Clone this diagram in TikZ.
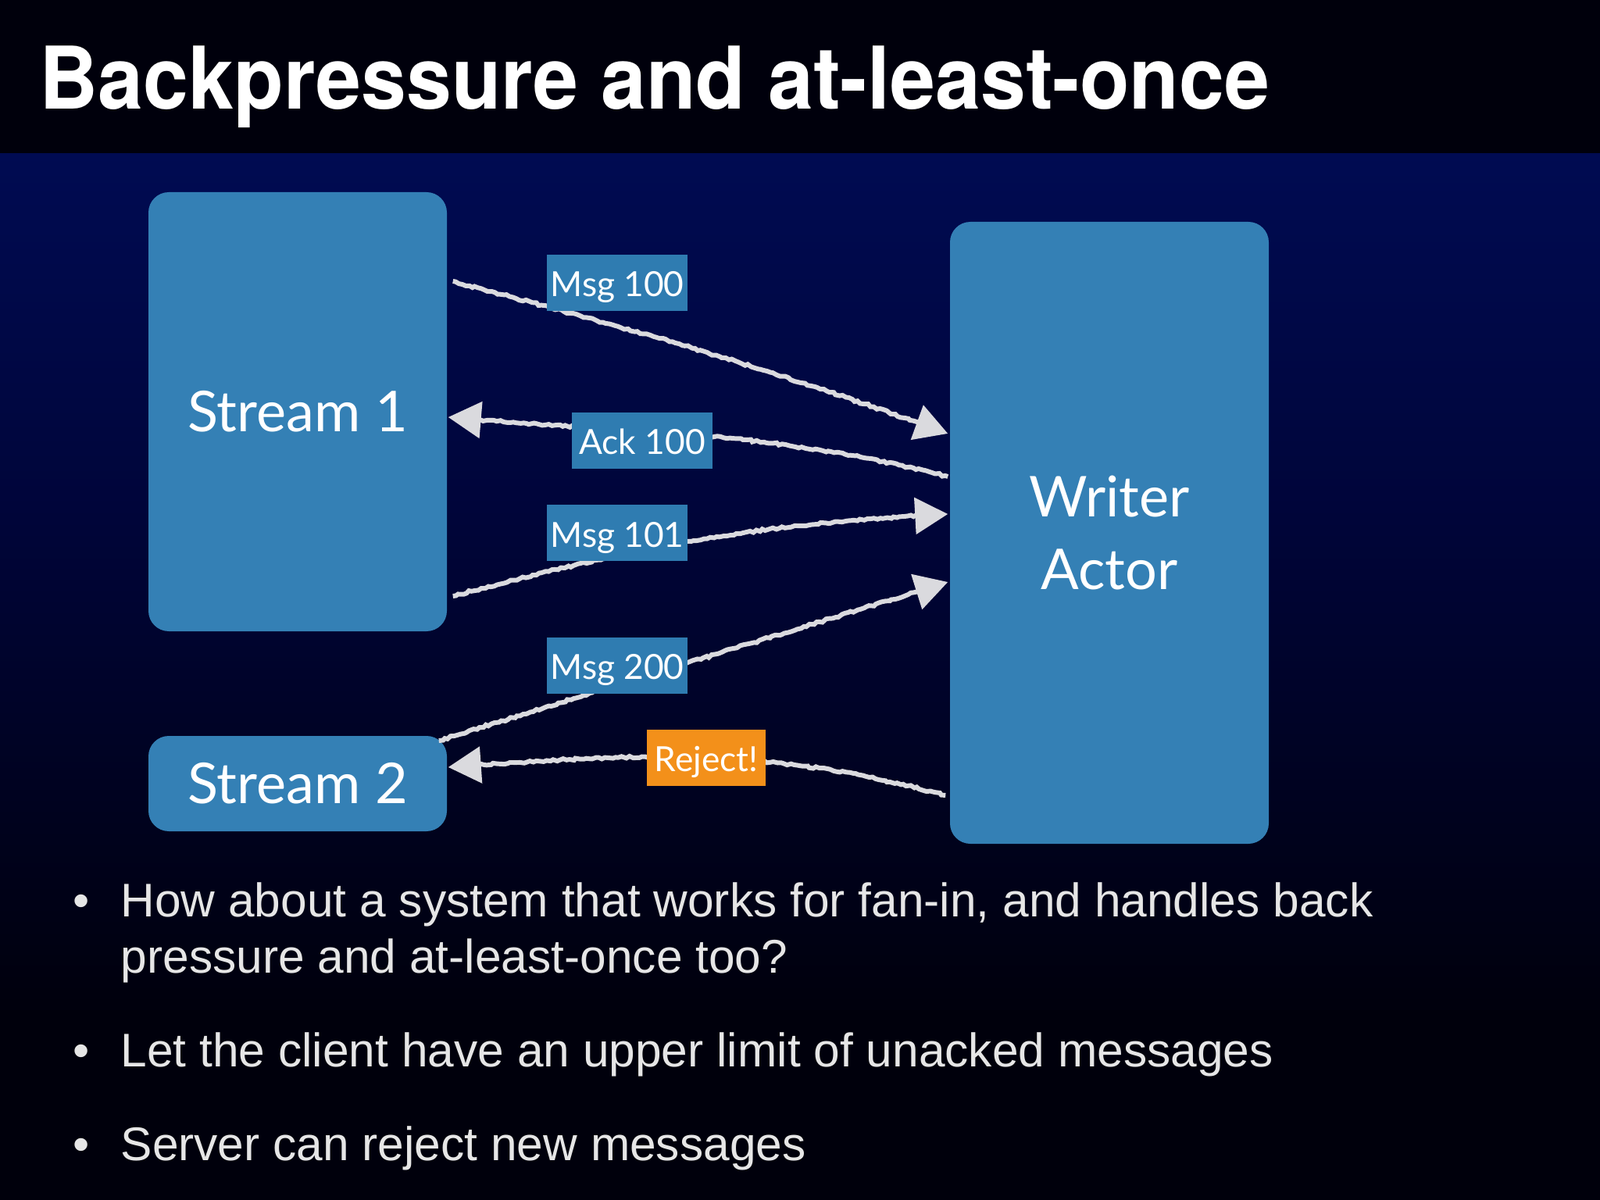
\documentclass[tikz,border=0pt]{standalone}
\usepackage{fontspec}
\setmainfont{Liberation Sans}
\newfontfamily\titlefont[FakeStretch=0.94]{TeX Gyre Heros}
\newfontfamily\boxfont{Lato}
\usetikzlibrary{arrows.meta}
\usetikzlibrary{decorations.pathmorphing}
\definecolor{slateblue}{HTML}{3480B5}
\definecolor{labelblue}{HTML}{2F7CB1}
\definecolor{rejectorange}{HTML}{F3901A}
\definecolor{chalk}{HTML}{DADADE}
\definecolor{bodygray}{HTML}{E6E6E6}
\definecolor{skytop}{HTML}{000B52}
\definecolor{skymid}{HTML}{00053A}
\definecolor{skylow}{HTML}{00000C}
\tikzset{
  actorbox/.style={fill=slateblue, rounded corners=.26cm, text=white, align=center,
    font=\boxfont\fontsize{20.5}{26.5}\selectfont, inner sep=0pt},
  msglabel/.style={fill=labelblue, text=white, minimum width=1.80cm, text height=.54cm, text depth=.18cm,
    inner sep=0pt, font=\boxfont\fontsize{12.6}{15}\selectfont},
  chalkline/.style={draw=chalk, line width=1.7pt, -{Triangle[length=.42cm,width=.46cm]},
    decorate, decoration={random steps,segment length=1.2pt,amplitude=.4pt,post length=10pt}},
  bullettext/.style={anchor=base west, text=bodygray, font=\fontsize{17.2}{20}\selectfont, inner sep=0pt},
  bulletdot/.style={anchor=base, text=bodygray, font=\fontsize{17.2}{20}\selectfont, inner sep=0pt}
}

\begin{document}
\begin{tikzpicture}
  \useasboundingbox (0,0) rectangle (20.48,-15.36);
  \shade[top color=skytop, bottom color=skymid] (0,-1.96) rectangle (20.48,-6.5);
  \shade[top color=skymid, bottom color=skylow] (0,-6.5) rectangle (20.48,-13);
  \fill[skylow] (0,-13) rectangle (20.48,-15.36);
  \fill[skylow] (0,0) rectangle (20.48,-1.96);
  \node (title) [anchor=base west, inner sep=0pt, text=white, font=\titlefont\bfseries\fontsize{31.5}{36}\selectfont]
    at (.50,-1.40) {Backpressure and at-least-once};

  \node (stream1) [actorbox, minimum width=3.82cm, minimum height=5.62cm] at (3.81,-5.27) {Stream 1};
  \node (stream2) [actorbox, minimum width=3.82cm, minimum height=1.22cm] at (3.81,-10.03) {Stream 2};
  \node (writer) [actorbox, minimum width=4.08cm, minimum height=7.96cm] at (14.20,-6.82) {Writer\\Actor};

  \path (node cs:name=stream1,anchor=east) +(.07,1.67) coordinate (msgao);
  \path (node cs:name=writer,anchor=west) +(-.02,1.27) coordinate (msgai);
  \draw[chalkline] (msgao) to[out=-15,in=160] (msgai);
  \path (node cs:name=writer,anchor=west) +(-.02,.72) coordinate (acko);
  \path (node cs:name=stream1,anchor=east) +(.01,-.07) coordinate (acki);
  \draw[chalkline] (acko) to[out=166,in=-5] (acki);
  \path (node cs:name=stream1,anchor=east) +(.07,-2.36) coordinate (msgbo);
  \path (node cs:name=writer,anchor=west) +(-.02,.24) coordinate (msgbi);
  \draw[chalkline] (msgbo) to[out=15,in=183] (msgbi);
  \path (node cs:name=stream2,anchor=east) +(-.11,.55) coordinate (msgco);
  \path (node cs:name=writer,anchor=west) +(-.02,-.63) coordinate (msgci);
  \draw[chalkline] (msgco) -- (msgci);
  \path (node cs:name=writer,anchor=west) +(-.05,-3.36) coordinate (rejo);
  \path (node cs:name=stream2,anchor=east) +(.01,.21) coordinate (reji);
  \draw[chalkline] (rejo) to[out=165,in=4] (reji);

  \node (msga) [msglabel] at (7.90,-3.62) {Msg 100};
  \node (ack) [msglabel] at (8.22,-5.64) {Ack 100};
  \node (msgb) [msglabel] at (7.90,-6.82) {Msg 101};
  \node (msgc) [msglabel] at (7.90,-8.52) {Msg 200};
  \node (rej) [msglabel, fill=rejectorange, minimum width=1.52cm] at (9.04,-9.70) {Reject!};

  \node (dota) [bulletdot] at (1.04,-11.73) {•};
  \node (linea) [bullettext] at (1.54,-11.73) {How about a system that works for fan-in, and handles back};
  \node (lineb) [bullettext] at (1.54,-12.45) {pressure and at-least-once too?};
  \node (dotb) [bulletdot] at (1.04,-13.65) {•};
  \node (linec) [bullettext] at (1.54,-13.65) {Let the client have an upper limit of unacked messages};
  \node (dotc) [bulletdot] at (1.04,-14.85) {•};
  \node (lined) [bullettext] at (1.54,-14.85) {Server can reject new messages};
\end{tikzpicture}
\end{document}
